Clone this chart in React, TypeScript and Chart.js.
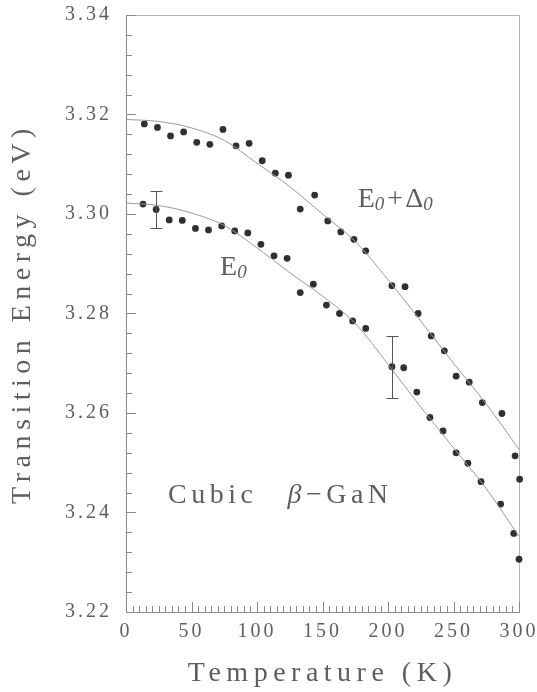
import React, { useEffect, useRef } from "react";
import { Chart, registerables } from "chart.js";

Chart.register(...registerables);

// ---- data ----
const upperT = [14, 24, 34, 44, 54, 64, 74, 84, 94, 104, 114, 124, 133, 144, 154, 164, 174, 183, 203, 213, 223, 233, 243, 252, 262, 272, 287, 297, 300.5];
const upperE = [3.3181, 3.3174, 3.3157, 3.3165, 3.3144, 3.3140, 3.3170, 3.3137, 3.3142, 3.3107, 3.3082, 3.3078, 3.3010, 3.3038, 3.2986, 3.2964, 3.2949, 3.2926, 3.2856, 3.2854, 3.2800, 3.2755, 3.2725, 3.2674, 3.2662, 3.2621, 3.2599, 3.2514, 3.2467];

const lowerT = [13, 23, 33, 43, 53, 63, 73, 83, 93, 103, 113, 123, 133, 143, 153, 163, 173, 183, 203, 212, 222, 232, 242, 252, 261, 271, 286, 296, 300];
const lowerE = [3.3020, 3.3009, 3.2988, 3.2987, 3.2971, 3.2968, 3.2976, 3.2966, 3.2962, 3.2939, 3.2916, 3.2911, 3.2842, 3.2859, 3.2817, 3.2800, 3.2785, 3.2770, 3.2693, 3.2691, 3.2642, 3.2591, 3.2564, 3.2520, 3.2499, 3.2462, 3.2417, 3.2358, 3.2306];

const fitT = [0, 25, 50, 75, 100, 125, 150, 175, 200, 225, 250, 275, 300];
const upperFitE = [3.3190, 3.3186, 3.3173, 3.3148, 3.3102, 3.3055, 3.3000, 3.2945, 3.2868, 3.2785, 3.2700, 3.2618, 3.2527];
const lowerFitE = [3.3022, 3.3017, 3.3002, 3.2977, 3.2932, 3.2882, 3.2835, 3.2780, 3.2698, 3.2612, 3.2530, 3.2448, 3.2352];

const errorBarT = [23, 203];
const errorBarE = [3.3009, 3.2693];
const errorBarHalf = [0.0038, 0.0062];

const xTicks = [0, 50, 100, 150, 200, 250, 300];
const yTicks = [3.22, 3.24, 3.26, 3.28, 3.30, 3.32, 3.34];
const xMinorStep = 5;
const yMinorStep = 0.004;

// ---- styling ----
const FONT = "'Liberation Serif', 'DejaVu Serif', serif";
const TEXT = "#5e5e5e";
const AXIS = "#8a8a8a";
const FRAME = "#b4b4b4";
const DOT = "#303030";
const CURVE = "#9a9a9a";

const toXY = (xs: number[], ys: number[]) => xs.map((x, i) => ({ x, y: ys[i] }));

const decorPlugin = {
  id: "decor",
  beforeDraw(chart: any) {
    chart.ctx.letterSpacing = "5.5px";
  },
  beforeDatasetsDraw(chart: any) {
    const ctx = chart.ctx as CanvasRenderingContext2D;
    const { left, right, top, bottom } = chart.chartArea;
    const xs = chart.scales.x;
    const ys = chart.scales.y;
    ctx.save();
    // top and right frame lines
    ctx.strokeStyle = FRAME;
    ctx.lineWidth = 1;
    ctx.beginPath();
    ctx.moveTo(Math.round(left) + 0.5, Math.round(top) + 0.5);
    ctx.lineTo(Math.round(right) + 0.5, Math.round(top) + 0.5);
    ctx.lineTo(Math.round(right) + 0.5, Math.round(bottom) + 0.5);
    ctx.stroke();
    // inward tick marks
    ctx.strokeStyle = AXIS;
    ctx.beginPath();
    const xMin = xs.min, xMax = xs.max;
    const nx = Math.round((xMax - xMin) / xMinorStep);
    for (let i = 0; i <= nx; i++) {
      const v = xMin + i * xMinorStep;
      const px = Math.round(xs.getPixelForValue(v)) + 0.5;
      const major = xTicks.some((t) => Math.abs(t - v) < 1e-6);
      const len = major ? 10 : 6;
      ctx.moveTo(px, bottom);
      ctx.lineTo(px, bottom - len);
    }
    const yMin = ys.min, yMax = ys.max;
    const ny = Math.round((yMax - yMin) / yMinorStep);
    for (let i = 0; i <= ny; i++) {
      const v = yMin + i * yMinorStep;
      const py = Math.round(ys.getPixelForValue(v)) + 0.5;
      const major = yTicks.some((t) => Math.abs(t - v) < 1e-6);
      const len = major ? 10 : 6;
      ctx.moveTo(left, py);
      ctx.lineTo(left + len, py);
    }
    ctx.stroke();
    ctx.restore();
    ctx.letterSpacing = "3px";
  },
  afterDraw(chart: any) {
    const ctx = chart.ctx as CanvasRenderingContext2D;
    const xs = chart.scales.x;
    const ys = chart.scales.y;
    ctx.save();
    ctx.letterSpacing = "0px";
    // error bars
    ctx.strokeStyle = "#555";
    ctx.lineWidth = 1;
    ctx.beginPath();
    errorBarT.forEach((t, i) => {
      const px = Math.round(xs.getPixelForValue(t)) + 0.5;
      const y1 = Math.round(ys.getPixelForValue(errorBarE[i] + errorBarHalf[i])) + 0.5;
      const y2 = Math.round(ys.getPixelForValue(errorBarE[i] - errorBarHalf[i])) + 0.5;
      ctx.moveTo(px, y1);
      ctx.lineTo(px, y2);
      ctx.moveTo(px - 6, y1);
      ctx.lineTo(px + 6, y1);
      ctx.moveTo(px - 6, y2);
      ctx.lineTo(px + 6, y2);
    });
    ctx.stroke();

    // annotations
    ctx.fillStyle = TEXT;
    ctx.textBaseline = "alphabetic";
    ctx.textAlign = "left";
    const big = `28px ${FONT}`;
    const sub = `italic 19px ${FONT}`;
    const drawSeq = (x: number, y: number, parts: { t: string; f: string; dy?: number; gap?: number; ls?: string }[]) => {
      let cx = x;
      for (const p of parts) {
        ctx.font = p.f;
        ctx.letterSpacing = p.ls || "0px";
        cx += p.gap || 0;
        ctx.fillText(p.t, cx, y + (p.dy || 0));
        cx += ctx.measureText(p.t).width;
      }
    };
    // E0 + Delta0
    drawSeq(xs.getPixelForValue(176.9), ys.getPixelForValue(3.3014), [
      { t: "E", f: big },
      { t: "0", f: sub, dy: 3 },
      { t: "+", f: big, gap: 3 },
      { t: "Δ", f: big, gap: 2 },
      { t: "0", f: sub, dy: 3 },
    ]);
    // E0
    drawSeq(xs.getPixelForValue(71.8), ys.getPixelForValue(3.2877), [
      { t: "E", f: big },
      { t: "0", f: sub, dy: 3 },
    ]);
    // Cubic beta-GaN
    drawSeq(xs.getPixelForValue(32.1), ys.getPixelForValue(3.2419), [
      { t: "Cubic", f: big, ls: "4.5px" },
      { t: "β", f: `italic 28px ${FONT}`, gap: 30, ls: "4.5px" },
      { t: "−GaN", f: big, ls: "4.5px" },
    ]);
    ctx.restore();
    ctx.letterSpacing = "0px";
  },
};

export default function App() {
  const ref = useRef<HTMLCanvasElement>(null);
  useEffect(() => {
    document.body.style.margin = "0";
    const canvas = ref.current!;
    const chart = new Chart(canvas, {
      type: "scatter",
      data: {
        datasets: [
          {
            label: "E0+Δ0 fit",
            data: toXY(fitT, upperFitE),
            showLine: true,
            borderColor: CURVE,
            borderWidth: 1,
            pointRadius: 0,
            cubicInterpolationMode: "monotone",
            fill: false,
          },
          {
            label: "E0 fit",
            data: toXY(fitT, lowerFitE),
            showLine: true,
            borderColor: CURVE,
            borderWidth: 1,
            pointRadius: 0,
            cubicInterpolationMode: "monotone",
            fill: false,
          },
          {
            label: "E0+Δ0",
            data: toXY(upperT, upperE),
            showLine: false,
            pointRadius: 3.4,
            pointBackgroundColor: DOT,
            pointBorderWidth: 0,
            clip: false,
          },
          {
            label: "E0",
            data: toXY(lowerT, lowerE),
            showLine: false,
            pointRadius: 3.4,
            pointBackgroundColor: DOT,
            pointBorderWidth: 0,
            clip: false,
          },
        ],
      },
      options: {
        animation: false,
        responsive: false,
        devicePixelRatio: 1,
        layout: { padding: { left: 0, top: 15, right: 18, bottom: 0 } },
        plugins: { legend: { display: false }, tooltip: { enabled: false } },
        scales: {
          x: {
            type: "linear",
            min: 0,
            max: 300,
            afterBuildTicks: (s: any) => {
              s.ticks = xTicks.map((v) => ({ value: v }));
            },
            afterFit: (s: any) => {
              s.height = 80;
              s.paddingLeft = 0;
              s.paddingRight = 0;
            },
            grid: { display: false, drawTicks: false, tickLength: 0 },
            border: { display: true, color: AXIS, width: 1 },
            ticks: {
              z: 1,
              padding: 8,
              color: TEXT,
              font: { family: FONT, size: 20 },
              maxRotation: 0,
              autoSkip: false,
              callback: (v: any) => String(v),
            },
            title: {
              display: true,
              text: "Temperature (K)",
              color: TEXT,
              font: { family: FONT, size: 28 },
              padding: { top: 0, bottom: 2 },
            },
          },
          y: {
            type: "linear",
            min: 3.22,
            max: 3.34,
            afterBuildTicks: (s: any) => {
              s.ticks = yTicks.map((v) => ({ value: v }));
            },
            afterFit: (s: any) => {
              s.width = 126;
              s.paddingTop = 0;
              s.paddingBottom = 0;
            },
            grid: { display: false, drawTicks: false, tickLength: 0 },
            border: { display: true, color: AXIS, width: 1 },
            ticks: {
              z: 1,
              padding: 14,
              color: TEXT,
              font: { family: FONT, size: 20 },
              autoSkip: false,
              callback: (v: any) => Number(v).toFixed(2),
            },
            title: {
              display: true,
              text: "Transition Energy (eV)",
              color: TEXT,
              font: { family: FONT, size: 28 },
              padding: { top: 6, bottom: 0 },
            },
          },
        },
      } as any,
      plugins: [decorPlugin],
    });
    return () => chart.destroy();
  }, []);
  return <canvas ref={ref} width={537} height={692} style={{ display: "block", width: 537, height: 692 }} />;
}
